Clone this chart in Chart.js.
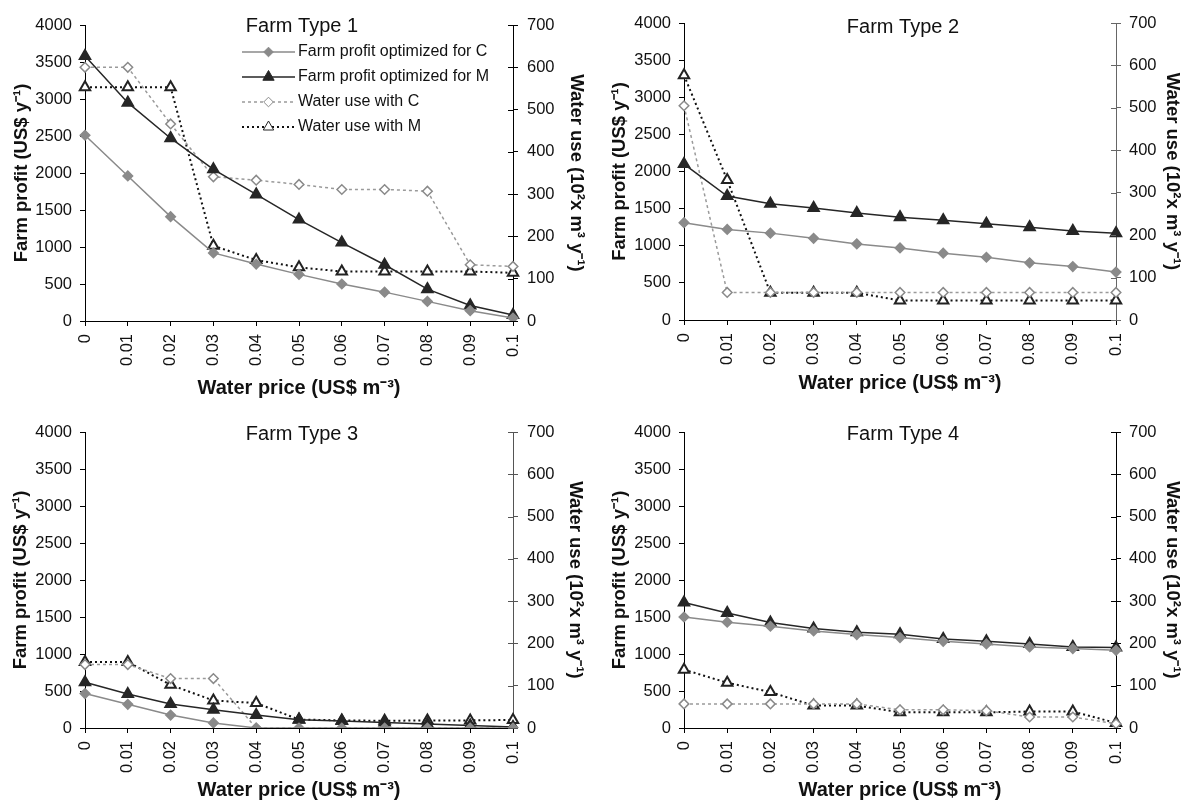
<!DOCTYPE html>
<html>
<head>
<meta charset="utf-8">
<script src="https://cdn.jsdelivr.net/npm/chart.js@4.4.0/dist/chart.umd.min.js"></script>
<style>
html, body { margin: 0; padding: 0; background: #fff; }
body { width: 1184px; height: 804px; position: relative; overflow: hidden; }
.panel { position: absolute; }
</style>
</head>
<body>
<div class="panel" style="left:0;top:0"><canvas id="farm1" width="592" height="400"></canvas></div>
<div class="panel" style="left:592px;top:0"><canvas id="farm2" width="600" height="400"></canvas></div>
<div class="panel" style="left:0;top:400px"><canvas id="farm3" width="592" height="404"></canvas></div>
<div class="panel" style="left:592px;top:400px"><canvas id="farm4" width="600" height="404"></canvas></div>
<script>
const priceLabels = ['0', '0.01', '0.02', '0.03', '0.04', '0.05', '0.06', '0.07', '0.08', '0.09', '0.1'];

// farm type 1
const profitC1 = [2510, 1960, 1410, 920, 770, 630, 500, 390, 265, 140, 40];
const profitM1 = [3580, 2950, 2470, 2050, 1710, 1370, 1060, 760, 430, 210, 80];
const waterC1 = [600, 600, 466, 341, 333, 323, 311, 311, 307, 133, 129];
const waterM1 = [553, 553, 553, 178, 144, 127, 117, 117, 117, 117, 114];

// farm type 2
const profitC2 = [1310, 1220, 1170, 1100, 1025, 970, 900, 845, 770, 720, 645];
const profitM2 = [2100, 1670, 1565, 1510, 1440, 1385, 1345, 1295, 1250, 1200, 1170];
const waterC2 = [505, 65, 65, 65, 65, 65, 65, 65, 65, 65, 65];
const waterM2 = [577, 330, 64, 64, 64, 46, 46, 46, 46, 46, 46];

// farm type 3
const profitC3 = [465, 320, 175, 68, 0, 0, 0, 0, 0, 0, 0];
const profitM3 = [617, 459, 324, 248, 175, 113, 95, 75, 55, 35, 15];
const waterC3 = [150, 150, 117, 117, 0, 0, 0, 0, 0, 0, 0];
const waterM3 = [156, 156, 102, 65, 59, 20, 18, 17, 18, 18, 19];

// farm type 4
const profitC4 = [1500, 1430, 1375, 1312, 1262, 1222, 1172, 1136, 1096, 1073, 1050];
const profitM4 = [1695, 1555, 1425, 1344, 1294, 1267, 1204, 1172, 1136, 1096, 1087];
const waterC4 = [57, 57, 57, 57, 57, 43, 43, 41, 26, 26, 10];
const waterM4 = [138, 107, 85, 53, 53, 37, 37, 37, 39, 39, 12];

const FONT = '"Liberation Sans", Arial, sans-serif';
Chart.defaults.font.family = FONT;
Chart.defaults.color = '#111';

const panelTitle = {
    id: 'panelTitle',
    afterDraw(chart, args, opts) {
        const { ctx, chartArea } = chart;
        ctx.save();
        ctx.font = '20px ' + FONT;
        ctx.fillStyle = '#111';
        ctx.textAlign = 'center';
        ctx.textBaseline = 'middle';
        ctx.fillText(opts.text, (chartArea.left + chartArea.right) / 2 + 3, chartArea.top + opts.dy);
        ctx.restore();
    }
};

// right axis ticks cross the axis line
const innerTicks = {
    id: 'innerTicks',
    afterDatasetsDraw(chart, args, opts) {
        const s = chart.scales.y1;
        const ctx = chart.ctx;
        ctx.save();
        ctx.strokeStyle = opts.color;
        ctx.lineWidth = 1;
        s.ticks.forEach((t, i) => {
            const y = Math.round(s.getPixelForTick(i)) + 0.5;
            ctx.beginPath();
            ctx.moveTo(s.left - 5, y);
            ctx.lineTo(s.left, y);
            ctx.stroke();
        });
        ctx.restore();
    }
};

// legend drawn inside the plot of farm type 1
const insideLegend = {
    id: 'insideLegend',
    afterDraw(chart, args, opts) {
        if (!opts.show) return;
        const ctx = chart.ctx;
        ctx.save();
        chart.data.datasets.forEach((ds, i) => {
            const y = opts.y + i * opts.rowGap;
            ctx.strokeStyle = ds.borderColor;
            ctx.lineWidth = ds.borderWidth;
            ctx.setLineDash(ds.borderDash || []);
            ctx.beginPath();
            ctx.moveTo(opts.x, y);
            ctx.lineTo(opts.x + opts.lineLen, y);
            ctx.stroke();
            ctx.setLineDash([]);
            ctx.fillStyle = ds.pointBackgroundColor;
            ctx.strokeStyle = ds.pointBorderColor;
            ctx.lineWidth = 1;
            Chart.helpers.drawPoint(ctx, { pointStyle: ds.pointStyle, radius: ds.pointRadius, borderWidth: 1 },
                opts.x + opts.lineLen / 2, y);
            ctx.fillStyle = '#111';
            ctx.font = '16px ' + FONT;
            ctx.textAlign = 'left';
            ctx.textBaseline = 'middle';
            ctx.fillText(ds.label, opts.x + opts.lineLen + 3, y);
        });
        ctx.restore();
    }
};

function makeDatasets(pc, pm, wc, wm) {
    return [
        {
            label: 'Farm profit optimized for C', data: pc, yAxisID: 'y',
            borderColor: '#8a8a8a', borderWidth: 1.5,
            pointStyle: 'rectRot', pointRadius: 4.8,
            pointBackgroundColor: '#8a8a8a', pointBorderColor: '#8a8a8a'
        },
        {
            label: 'Farm profit optimized for M', data: pm, yAxisID: 'y',
            borderColor: '#262626', borderWidth: 1.5,
            pointStyle: 'triangle', pointRadius: 6.5,
            pointBackgroundColor: '#262626', pointBorderColor: '#262626'
        },
        {
            label: 'Water use with C', data: wc, yAxisID: 'y1',
            borderColor: '#9a9a9a', borderWidth: 1.5, borderDash: [3, 3],
            pointStyle: 'rectRot', pointRadius: 4.8,
            pointBackgroundColor: '#ffffff', pointBorderColor: '#8a8a8a'
        },
        {
            label: 'Water use with M', data: wm, yAxisID: 'y1',
            borderColor: '#111111', borderWidth: 2, borderDash: [2, 3],
            pointStyle: 'triangle', pointRadius: 6,
            pointBackgroundColor: '#ffffff', pointBorderColor: '#222222'
        }
    ];
}

function plainTick(v) { return String(v); }

function makePanel(id, title, datasets, p) {
    const tickFont = { size: 16.5 };
    const canvas = document.getElementById(id);
    new Chart(canvas, {
        type: 'line',
        data: { labels: priceLabels, datasets: datasets },
        plugins: [panelTitle, insideLegend, innerTicks],
        options: {
            responsive: false,
            animation: false,
            events: [],
            layout: { padding: { top: p.top, bottom: 0, left: 0, right: 0 } },
            elements: { line: { tension: 0 }, point: { borderWidth: 1, hoverRadius: 6 } },
            plugins: {
                legend: { display: false },
                tooltip: { enabled: false },
                panelTitle: { text: title, dy: p.titleDy },
                innerTicks: { color: p.rightColor },
                insideLegend: { show: !!p.legend, x: 242, y: 52, rowGap: 25, lineLen: 53 }
            },
            scales: {
                x: {
                    offset: false,
                    grid: { drawOnChartArea: false, tickLength: 5, color: '#000' },
                    border: { color: '#000' },
                    ticks: { minRotation: 90, maxRotation: 90, autoSkip: false, padding: 8, font: tickFont },
                    title: {
                        display: true, text: 'Water price (US$ m⁻³)',
                        font: { size: 20, weight: 'bold' }, padding: { top: 0, bottom: p.xTitlePad }
                    },
                    afterFit(s) { s.height = canvas.height - p.bottom; }
                },
                y: {
                    position: 'left', min: 0, max: 4000,
                    grid: { drawOnChartArea: false, tickLength: 5, color: '#000' },
                    border: { color: '#000' },
                    ticks: { stepSize: 500, padding: 8, font: tickFont, callback: plainTick },
                    title: {
                        display: true, text: 'Farm profit (US$ y⁻¹)',
                        font: { size: 18.5, weight: 'bold' }, padding: { top: p.yTitlePad, bottom: 0 }
                    },
                    afterFit(s) { s.width = p.left; }
                },
                y1: {
                    position: 'right', min: 0, max: 700,
                    grid: { drawOnChartArea: false, tickLength: 5, color: p.rightColor },
                    border: { color: p.rightColor },
                    ticks: { stepSize: 100, padding: p.y1TickPad, font: tickFont, callback: plainTick },
                    title: {
                        display: true, text: 'Water use (10²x m³ y⁻¹)',
                        font: { size: 18.5, weight: 'bold' }, padding: { top: p.y1TitlePad, bottom: 0 }
                    },
                    afterFit(s) { s.width = canvas.width - p.right; }
                }
            }
        }
    });
}

makePanel('farm1', 'Farm Type 1', makeDatasets(profitC1, profitM1, waterC1, waterM1),
    { top: 25, bottom: 321, left: 85, right: 513, titleDy: 1, xTitlePad: 0, yTitlePad: 11, y1TitlePad: 5, y1TickPad: 9, rightColor: '#000', legend: true });
makePanel('farm2', 'Farm Type 2', makeDatasets(profitC2, profitM2, waterC2, waterM2),
    { top: 23, bottom: 320, left: 92, right: 524, titleDy: 4, xTitlePad: 5, yTitlePad: 17, y1TitlePad: 9, y1TickPad: 8, rightColor: '#666' });
makePanel('farm3', 'Farm Type 3', makeDatasets(profitC3, profitM3, waterC3, waterM3),
    { top: 32, bottom: 328, left: 85, right: 513, titleDy: 2, xTitlePad: 2, yTitlePad: 10, y1TitlePad: 6, y1TickPad: 9, rightColor: '#555' });
makePanel('farm4', 'Farm Type 4', makeDatasets(profitC4, profitM4, waterC4, waterM4),
    { top: 32, bottom: 328, left: 92, right: 524, titleDy: 2, xTitlePad: 2, yTitlePad: 17, y1TitlePad: 9, y1TickPad: 8, rightColor: '#000' });
</script>
</body>
</html>
